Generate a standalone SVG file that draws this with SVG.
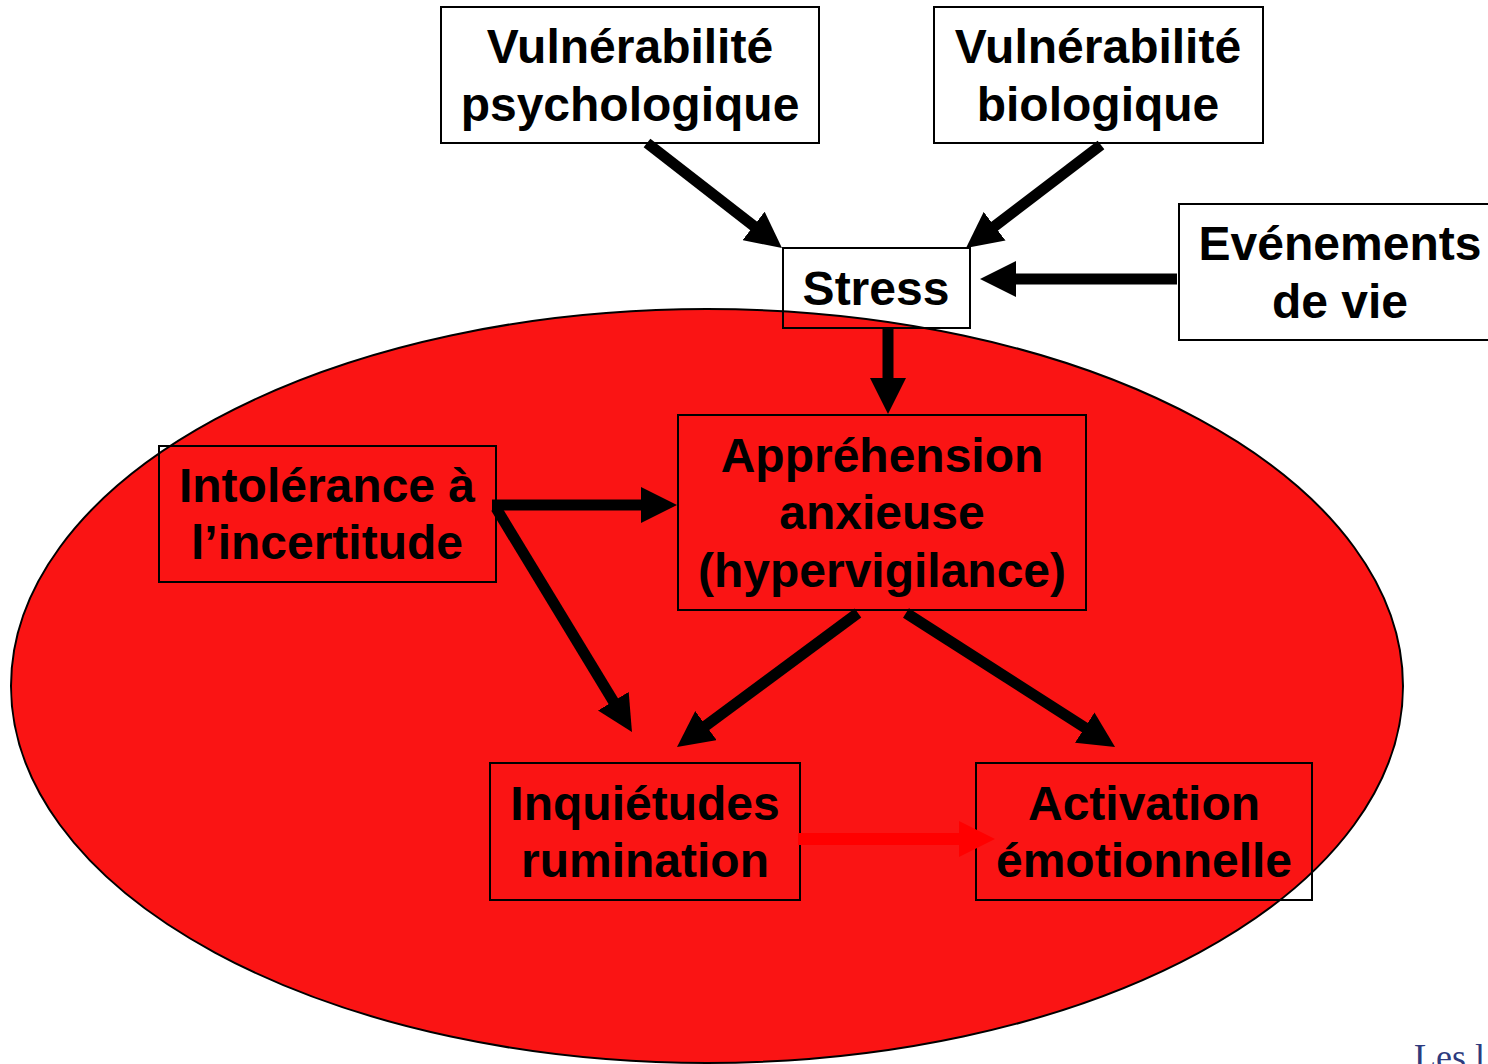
<svg xmlns="http://www.w3.org/2000/svg" width="1488" height="1064" viewBox="0 0 1488 1064">
<defs>
<style>
.box{fill:none;stroke:#000;stroke-width:2}
.t{font-family:"Liberation Sans",Arial,sans-serif;font-weight:bold;font-size:48px;text-anchor:middle;fill:#000}
.a{stroke:#000;stroke-width:11;fill:none;marker-end:url(#ah)}
.r{stroke:#FF0000;stroke-width:12;fill:none;marker-end:url(#rh)}
</style>
<marker id="ah" markerUnits="userSpaceOnUse" markerWidth="36" markerHeight="36" refX="16" refY="18" orient="auto">
<path d="M0,0 L36,18 L0,36 z" fill="#000"/>
</marker>
<marker id="rh" markerUnits="userSpaceOnUse" markerWidth="36" markerHeight="36" refX="16" refY="18" orient="auto">
<path d="M0,0 L36,18 L0,36 z" fill="#FF0000"/>
</marker>
</defs>
<rect width="1488" height="1064" fill="#fff"/>
<ellipse cx="707" cy="686" rx="696" ry="377" fill="#FA1414" stroke="#000" stroke-width="2"/>

<g id="vuln-psy">
<rect class="box" x="441" y="7" width="378" height="136"/>
<text class="t" x="630" y="63">Vulnérabilité</text>
<text class="t" x="630" y="121">psychologique</text>
</g>
<g id="vuln-bio">
<rect class="box" x="934" y="7" width="329" height="136"/>
<text class="t" x="1098" y="63">Vulnérabilité</text>
<text class="t" x="1098" y="121">biologique</text>
</g>
<g id="evenements">
<rect class="box" x="1179" y="204" width="312" height="136"/>
<text class="t" x="1340" y="260">Evénements</text>
<text class="t" x="1340" y="318">de vie</text>
</g>
<g id="stress">
<rect class="box" x="783" y="248" width="187" height="80"/>
<text class="t" x="876" y="305">Stress</text>
</g>
<g id="apprehension">
<rect class="box" x="678" y="415" width="408" height="195"/>
<text class="t" x="882" y="472">Appréhension</text>
<text class="t" x="882" y="529">anxieuse</text>
<text class="t" x="882" y="587">(hypervigilance)</text>
</g>
<g id="intolerance">
<rect class="box" x="159" y="446" width="337" height="136"/>
<text class="t" x="327" y="502">Intolérance à</text>
<text class="t" x="327" y="559">l’incertitude</text>
</g>
<g id="inquietudes">
<rect class="box" x="490" y="763" width="310" height="137"/>
<text class="t" x="645" y="820">Inquiétudes</text>
<text class="t" x="645" y="877">rumination</text>
</g>
<g id="activation">
<rect class="box" x="976" y="763" width="336" height="137"/>
<text class="t" x="1144" y="820">Activation</text>
<text class="t" x="1144" y="877">émotionnelle</text>
</g>

<g id="connectors">
<line class="a" x1="647" y1="143" x2="766.2" y2="235.7"/>
<line class="a" x1="1101" y1="145" x2="981.9" y2="235.9"/>
<line class="a" x1="1177" y1="279" x2="1000" y2="279"/>
<line class="a" x1="888" y1="328" x2="888" y2="394"/>
<path class="a" d="M496,508 L621.6,714.9"/>
<line class="a" x1="492" y1="505" x2="657" y2="505"/>
<line class="a" x1="858" y1="613" x2="693.1" y2="735.1"/>
<line class="a" x1="906" y1="613" x2="1098.2" y2="736.2"/>
<line class="r" x1="798" y1="839" x2="975" y2="839"/>
</g>

<text x="1414" y="1069" font-family="Liberation Serif,'Times New Roman',serif" font-size="36" fill="#2E3B7E">Les l</text>
</svg>
